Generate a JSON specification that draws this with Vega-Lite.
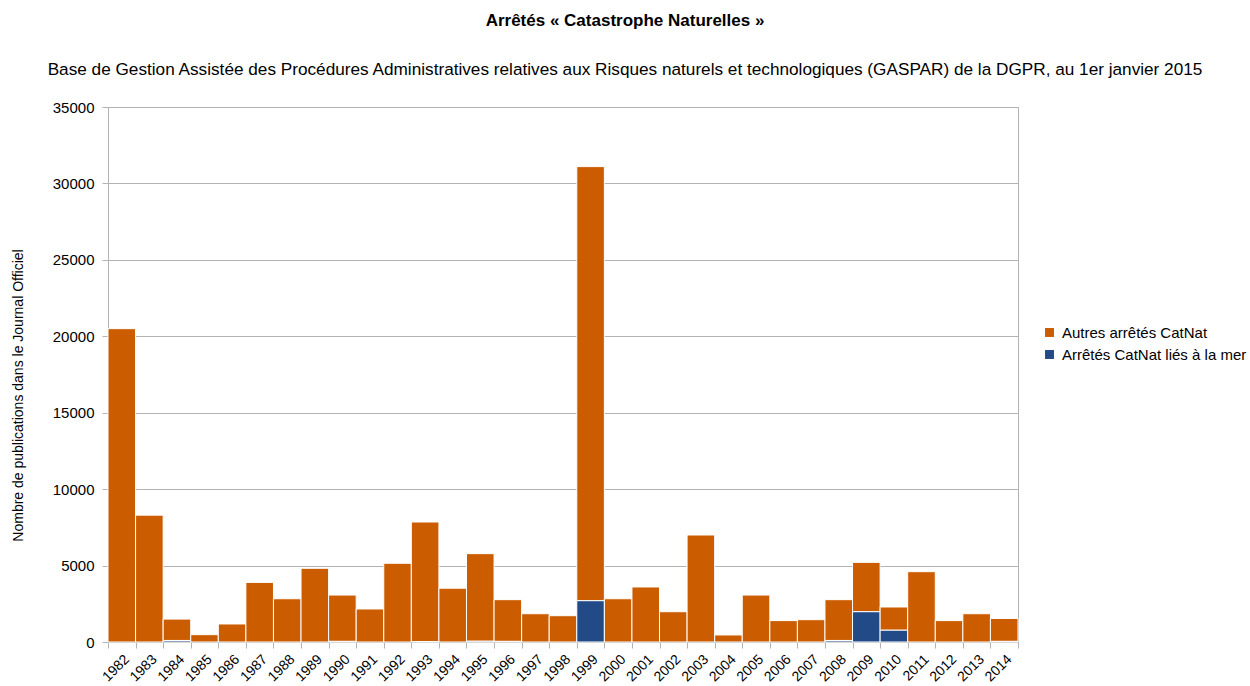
{
  "$schema": "https://vega.github.io/schema/vega-lite/v6.json",
  "autosize": {"type": "none"},
  "padding": {"left": 108, "top": 107, "right": 232, "bottom": 44},
  "width": 910,
  "height": 535,
  "background": "white",
  "config": {
    "font": "Liberation Sans",
    "view": {"stroke": "#b3b3b3", "strokeWidth": 1}
  },
  "title": {
    "text": "Arrêtés « Catastrophe Naturelles »",
    "subtitle": "Base de Gestion Assistée des Procédures Administratives relatives aux Risques naturels et technologiques (GASPAR) de la DGPR, au 1er janvier 2015",
    "anchor": "middle",
    "frame": "group",
    "dx": 62,
    "offset": 21,
    "font": "Liberation Sans",
    "fontSize": 17,
    "fontWeight": "bold",
    "color": "#000000",
    "subtitleFont": "Liberation Sans",
    "subtitleFontSize": 17.2,
    "subtitleColor": "#000000",
    "subtitlePadding": 31
  },
  "data": {
    "values": [
      {"annee": "1982", "serie": "Autres arrêtés CatNat", "n": 20500},
      {"annee": "1983", "serie": "Autres arrêtés CatNat", "n": 8300},
      {"annee": "1984", "serie": "Autres arrêtés CatNat", "n": 1400},
      {"annee": "1984", "serie": "Arrêtés CatNat liés à la mer", "n": 100},
      {"annee": "1985", "serie": "Autres arrêtés CatNat", "n": 480},
      {"annee": "1986", "serie": "Autres arrêtés CatNat", "n": 1180},
      {"annee": "1987", "serie": "Autres arrêtés CatNat", "n": 3900},
      {"annee": "1988", "serie": "Autres arrêtés CatNat", "n": 2830},
      {"annee": "1989", "serie": "Autres arrêtés CatNat", "n": 4820},
      {"annee": "1990", "serie": "Autres arrêtés CatNat", "n": 3030},
      {"annee": "1990", "serie": "Arrêtés CatNat liés à la mer", "n": 40},
      {"annee": "1991", "serie": "Autres arrêtés CatNat", "n": 2160},
      {"annee": "1992", "serie": "Autres arrêtés CatNat", "n": 5150},
      {"annee": "1993", "serie": "Autres arrêtés CatNat", "n": 7820},
      {"annee": "1993", "serie": "Arrêtés CatNat liés à la mer", "n": 30},
      {"annee": "1994", "serie": "Autres arrêtés CatNat", "n": 3520},
      {"annee": "1995", "serie": "Autres arrêtés CatNat", "n": 5730},
      {"annee": "1995", "serie": "Arrêtés CatNat liés à la mer", "n": 50},
      {"annee": "1996", "serie": "Autres arrêtés CatNat", "n": 2730},
      {"annee": "1996", "serie": "Arrêtés CatNat liés à la mer", "n": 40},
      {"annee": "1997", "serie": "Autres arrêtés CatNat", "n": 1850},
      {"annee": "1998", "serie": "Autres arrêtés CatNat", "n": 1720},
      {"annee": "1999", "serie": "Autres arrêtés CatNat", "n": 28400},
      {"annee": "1999", "serie": "Arrêtés CatNat liés à la mer", "n": 2700},
      {"annee": "2000", "serie": "Autres arrêtés CatNat", "n": 2830},
      {"annee": "2001", "serie": "Autres arrêtés CatNat", "n": 3600},
      {"annee": "2002", "serie": "Autres arrêtés CatNat", "n": 1980},
      {"annee": "2003", "serie": "Autres arrêtés CatNat", "n": 7000},
      {"annee": "2004", "serie": "Autres arrêtés CatNat", "n": 460},
      {"annee": "2005", "serie": "Autres arrêtés CatNat", "n": 3070},
      {"annee": "2006", "serie": "Autres arrêtés CatNat", "n": 1400},
      {"annee": "2007", "serie": "Autres arrêtés CatNat", "n": 1460},
      {"annee": "2008", "serie": "Autres arrêtés CatNat", "n": 2670},
      {"annee": "2008", "serie": "Arrêtés CatNat liés à la mer", "n": 100},
      {"annee": "2009", "serie": "Autres arrêtés CatNat", "n": 3230},
      {"annee": "2009", "serie": "Arrêtés CatNat liés à la mer", "n": 1980},
      {"annee": "2010", "serie": "Autres arrêtés CatNat", "n": 1520},
      {"annee": "2010", "serie": "Arrêtés CatNat liés à la mer", "n": 770},
      {"annee": "2011", "serie": "Autres arrêtés CatNat", "n": 4600},
      {"annee": "2012", "serie": "Autres arrêtés CatNat", "n": 1400},
      {"annee": "2013", "serie": "Autres arrêtés CatNat", "n": 1850},
      {"annee": "2014", "serie": "Autres arrêtés CatNat", "n": 1500},
      {"annee": "2014", "serie": "Arrêtés CatNat liés à la mer", "n": 40}
    ]
  },
  "mark": {"type": "bar", "stroke": "white", "strokeWidth": 1},
  "encoding": {
    "x": {
      "field": "annee",
      "type": "ordinal",
      "scale": {"paddingInner": 0, "paddingOuter": 0},
      "axis": {
        "title": null,
        "labelAngle": -45,
        "labelFontSize": 14,
        "labelColor": "#000000",
        "labelPadding": 4,
        "tickColor": "#b3b3b3",
        "tickSize": 6,
        "domainColor": "#b3b3b3",
        "tickBand": "extent"
      }
    },
    "y": {
      "field": "n",
      "type": "quantitative",
      "aggregate": "sum",
      "stack": "zero",
      "scale": {"domain": [0, 35000], "nice": false},
      "axis": {
        "title": "Nombre de publications dans le Journal Officiel",
        "titleFontSize": 14,
        "titleFontWeight": "normal",
        "titleColor": "#000000",
        "titlePadding": 27,
        "titleY": 288,
        "values": [0, 5000, 10000, 15000, 20000, 25000, 30000, 35000],
        "format": "d",
        "labelFontSize": 15,
        "labelColor": "#000000",
        "labelPadding": 8,
        "tickColor": "#b3b3b3",
        "tickSize": 6,
        "domainColor": "#b3b3b3",
        "gridColor": "#b3b3b3",
        "gridWidth": 1
      }
    },
    "color": {
      "field": "serie",
      "type": "nominal",
      "scale": {
        "domain": ["Autres arrêtés CatNat", "Arrêtés CatNat liés à la mer"],
        "range": ["#cc5c00", "#224a87"]
      },
      "legend": {
        "title": null,
        "orient": "none",
        "legendX": 934,
        "legendY": 218,
        "symbolType": "square",
        "symbolSize": 80,
        "symbolStrokeWidth": 0,
        "labelFontSize": 15,
        "labelLimit": 300,
        "labelColor": "#000000",
        "labelOffset": 5,
        "rowPadding": 6
      }
    },
    "order": {"field": "serie", "sort": "ascending"}
  }
}
